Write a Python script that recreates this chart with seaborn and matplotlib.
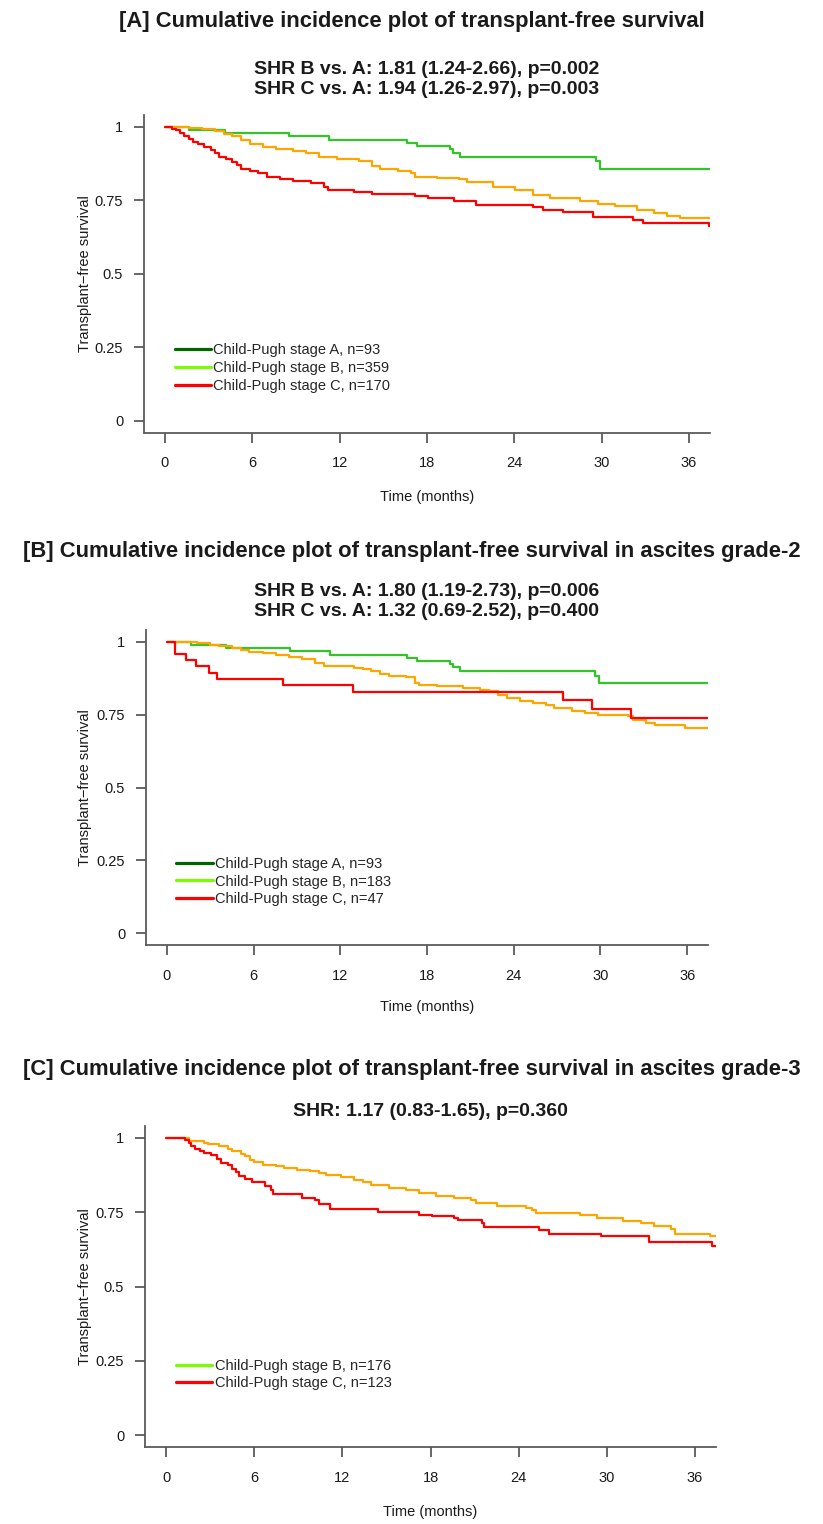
import matplotlib
matplotlib.use("Agg")
import matplotlib.pyplot as plt
from matplotlib.lines import Line2D
import pandas as pd
import seaborn as sns

# ---------------------------------------------------------------------------
# Step estimates of transplant-free survival (time in months)
# ---------------------------------------------------------------------------
# Child-Pugh stage A (n=93) - same cohort in panels A and B
stage_a_time = [0, 1.64, 4.1, 8.5, 11.3, 16.6, 17.3, 19.6, 19.8, 20.3, 29.6, 29.9, 38]
stage_a_surv = [1, 0.989, 0.978, 0.967, 0.956, 0.945, 0.934, 0.923, 0.912, 0.898, 0.884, 0.857, 0.857]

# Panel A: all patients
all_b_time = [0, 1.64, 2.54, 3.44, 4.03, 4.63, 5.23, 5.83, 6.72, 7.62, 8.81, 9.71, 10.61,
              11.80, 13.30, 14.19, 14.79, 15.98, 16.88, 17.18, 18.67, 20.17, 20.77, 22.56,
              24.05, 25.25, 26.44, 28.53, 29.73, 30.92, 32.42, 33.61, 34.51, 35.40, 38]
all_b_surv = [1, 0.997, 0.992, 0.985, 0.977, 0.968, 0.955, 0.943, 0.932, 0.926, 0.918, 0.912,
              0.898, 0.890, 0.885, 0.867, 0.855, 0.851, 0.842, 0.830, 0.825, 0.821, 0.813,
              0.796, 0.785, 0.768, 0.757, 0.746, 0.737, 0.729, 0.717, 0.706, 0.695, 0.689, 0.681]
all_c_time = [0, 0.51, 0.75, 1.05, 1.34, 1.64, 1.94, 2.24, 2.69, 3.14, 3.44, 3.73, 4.18, 4.63,
              4.93, 5.23, 5.83, 6.42, 7.02, 7.92, 8.81, 10.01, 10.91, 11.20, 13.00, 14.19,
              17.18, 18.08, 19.87, 21.36, 25.25, 26.0, 27.34, 29.43, 32.12, 32.87, 37.35, 38]
all_c_surv = [1, 0.994, 0.988, 0.980, 0.968, 0.957, 0.947, 0.940, 0.932, 0.921, 0.910, 0.898,
              0.889, 0.881, 0.870, 0.858, 0.851, 0.842, 0.830, 0.822, 0.817, 0.808, 0.796,
              0.785, 0.779, 0.771, 0.764, 0.756, 0.748, 0.734, 0.726, 0.717, 0.709, 0.694,
              0.683, 0.672, 0.664, 0.664]

# Panel B: ascites grade 2
g2_b_time = [0, 2.11, 3.01, 3.62, 4.52, 5.12, 5.72, 6.63, 7.53, 8.44, 9.34, 10.24, 10.85,
             11.75, 12.96, 13.56, 14.16, 14.76, 15.37, 16.57, 17.17, 17.48, 18.68, 20.49,
             21.69, 22.30, 22.90, 23.50, 24.40, 25.31, 26.21, 26.82, 28.02, 28.92, 29.83,
             31.94, 32.24, 33.14, 33.74, 35.85, 38]
g2_b_surv = [1, 0.994, 0.989, 0.985, 0.979, 0.972, 0.966, 0.960, 0.955, 0.947, 0.940, 0.926,
             0.918, 0.915, 0.911, 0.906, 0.898, 0.890, 0.881, 0.878, 0.858, 0.852, 0.847,
             0.841, 0.835, 0.830, 0.818, 0.807, 0.795, 0.790, 0.784, 0.773, 0.761, 0.756,
             0.750, 0.744, 0.733, 0.722, 0.716, 0.705, 0.697]
g2_c_time = [0, 0.54, 1.30, 1.99, 2.92, 3.46, 8.07, 12.9, 27.4, 29.4, 32.1, 38]
g2_c_surv = [1, 0.957, 0.936, 0.915, 0.894, 0.872, 0.851, 0.826, 0.800, 0.770, 0.740, 0.740]

# Panel C: ascites grade 3
g3_b_time = [0, 1.54, 2.57, 2.87, 3.61, 4.20, 4.50, 5.09, 5.38, 5.68, 5.98, 6.57, 7.46, 8.05,
             8.93, 9.82, 10.41, 10.86, 11.89, 12.78, 13.37, 13.96, 15.15, 16.33, 17.22, 18.40,
             19.59, 20.77, 21.07, 22.54, 24.47, 24.91, 25.21, 28.17, 29.35, 31.12, 32.31,
             33.20, 34.38, 34.67, 37.04, 38]
g3_b_surv = [1, 0.989, 0.983, 0.978, 0.972, 0.963, 0.955, 0.947, 0.938, 0.927, 0.918, 0.910,
             0.904, 0.899, 0.893, 0.888, 0.882, 0.874, 0.869, 0.860, 0.851, 0.843, 0.832,
             0.826, 0.813, 0.806, 0.798, 0.790, 0.781, 0.770, 0.765, 0.757, 0.746, 0.739,
             0.731, 0.722, 0.712, 0.705, 0.692, 0.677, 0.669, 0.669]
g3_c_time = [0, 1.30, 1.54, 1.69, 1.98, 2.28, 2.57, 3.02, 3.46, 3.76, 4.20, 4.50, 4.79, 4.94,
             5.38, 5.83, 6.72, 7.16, 7.25, 9.23, 10.12, 10.41, 11.15, 14.41, 17.22, 18.11,
             19.59, 19.88, 21.51, 21.66, 25.36, 26.09, 29.64, 32.90, 37.2, 38]
g3_c_surv = [1, 0.992, 0.983, 0.972, 0.963, 0.955, 0.948, 0.941, 0.928, 0.917, 0.908, 0.897,
             0.886, 0.872, 0.861, 0.850, 0.839, 0.825, 0.810, 0.798, 0.790, 0.776, 0.761,
             0.750, 0.742, 0.736, 0.731, 0.723, 0.712, 0.701, 0.690, 0.675, 0.669, 0.650,
             0.636, 0.636]

# Axis ticks
x_ticks = [0, 6, 12, 18, 24, 30, 36]
y_ticks = [0, 0.25, 0.5, 0.75, 1]
y_tick_labels = ["0", "0.25", "0.5", "0.75", "1"]

# Text
titles = [
    "[A] Cumulative incidence plot of transplant-free survival",
    "[B] Cumulative incidence plot of transplant-free survival in ascites grade-2",
    "[C] Cumulative incidence plot of transplant-free survival in ascites grade-3",
]
shr_text = [
    ["SHR B vs. A: 1.81 (1.24-2.66), p=0.002", "SHR C vs. A: 1.94 (1.26-2.97), p=0.003"],
    ["SHR B vs. A: 1.80 (1.19-2.73), p=0.006", "SHR C vs. A: 1.32 (0.69-2.52), p=0.400"],
    ["SHR: 1.17 (0.83-1.65), p=0.360"],
]
legend_labels = [
    ["Child-Pugh stage A, n=93", "Child-Pugh stage B, n=359", "Child-Pugh stage C, n=170"],
    ["Child-Pugh stage A, n=93", "Child-Pugh stage B, n=183", "Child-Pugh stage C, n=47"],
    ["Child-Pugh stage B, n=176", "Child-Pugh stage C, n=123"],
]

# Colours
CURVE_A, CURVE_B, CURVE_C = "#33c42a", "#ffa500", "#ff0000"
LEG_A, LEG_B, LEG_C = "#006400", "#7cfc00", "#ff0000"
AXIS_GREY = "#5a5a5a"
TEXT = "#1a1a1a"

sns.set_theme(style="ticks")
plt.rcParams["font.family"] = ["Liberation Sans", "DejaVu Sans"]

W, H = 823, 1524
fig = plt.figure(figsize=(W / 100, H / 100), dpi=100)


def rect(left, right, top, bottom):
    return [left / W, 1 - bottom / H, (right - left) / W, (bottom - top) / H]


panels = [
    dict(box=(144, 710, 115, 432.5), title_y=21, shr_y=[69.5, 90], xlab_y=497,
         curves=[(stage_a_time, stage_a_surv, CURVE_A), (all_b_time, all_b_surv, CURVE_B),
                 (all_c_time, all_c_surv, CURVE_C)],
         legend_colors=[LEG_A, LEG_B, LEG_C], legend_top=0.263),
    dict(box=(146, 708, 630, 945), title_y=552, shr_y=[591.5, 612], xlab_y=1007,
         curves=[(stage_a_time, stage_a_surv, CURVE_A), (g2_b_time, g2_b_surv, CURVE_B),
                 (g2_c_time, g2_c_surv, CURVE_C)],
         legend_colors=[LEG_A, LEG_B, LEG_C], legend_top=0.262),
    dict(box=(145, 716, 1126, 1447), title_y=1070, shr_y=[1112], xlab_y=1512,
         curves=[(g3_b_time, g3_b_surv, CURVE_B), (g3_c_time, g3_c_surv, CURVE_C)],
         legend_colors=[LEG_B, LEG_C], legend_top=0.257),
]

for i, p in enumerate(panels):
    left, right, top, bottom = p["box"]
    ax = fig.add_axes(rect(left, right, top, bottom))

    for t, s, col in p["curves"]:
        df = pd.DataFrame({"time": t, "surv": s})
        sns.lineplot(data=df, x="time", y="surv", ax=ax, color=col, lw=1.6,
                     drawstyle="steps-post", estimator=None, sort=False, legend=False)

    ax.set_xlim(-1.44, 37.44)
    ax.set_ylim(-0.04, 1.04)
    ax.set_xticks(x_ticks)
    ax.set_xticklabels([str(v) for v in x_ticks])
    ax.set_yticks(y_ticks)
    ax.set_yticklabels(y_tick_labels)
    sns.despine(ax=ax)
    for side in ("left", "bottom"):
        ax.spines[side].set_color(AXIS_GREY)
        ax.spines[side].set_linewidth(1.3)
    ax.tick_params(axis="both", length=7, width=1.3, color=AXIS_GREY, labelsize=10.5,
                   labelcolor=TEXT)
    ax.tick_params(axis="y", pad=8)
    ax.tick_params(axis="x", pad=10)

    ax.set_xlabel("Time (months)", fontsize=10.5, color=TEXT)
    ax.set_ylabel("Transplant\u2212free survival", fontsize=10.5, color=TEXT)
    ax.xaxis.set_label_coords(0.5, -(p["xlab_y"] - bottom) / (bottom - top))
    ax.xaxis.label.set_verticalalignment("center")
    ax.yaxis.set_label_coords((85 - left) / (right - left), 0.5)
    ax.yaxis.label.set_verticalalignment("center")

    handles = [Line2D([], [], color=c, lw=2.3) for c in p["legend_colors"]]
    ax.legend(handles=handles, labels=legend_labels[i], loc="upper left",
              bbox_to_anchor=(0.67, p["legend_top"]), bbox_transform=ax.transData,
              frameon=False, fontsize=10.5, handlelength=2.5, handletextpad=0.15,
              labelspacing=0.25, borderpad=0, borderaxespad=0)

    fig.text(0.5, 1 - p["title_y"] / H, titles[i], ha="center", va="center",
             fontsize=15.8, fontweight="bold", color=TEXT)
    cx = (left + right) / 2 / W
    for line, y in zip(shr_text[i], p["shr_y"]):
        fig.text(cx, 1 - y / H, line, ha="center", va="center", fontsize=14,
                 fontweight="bold", color=TEXT)

fig.savefig("out.png", dpi=100, facecolor="white")
